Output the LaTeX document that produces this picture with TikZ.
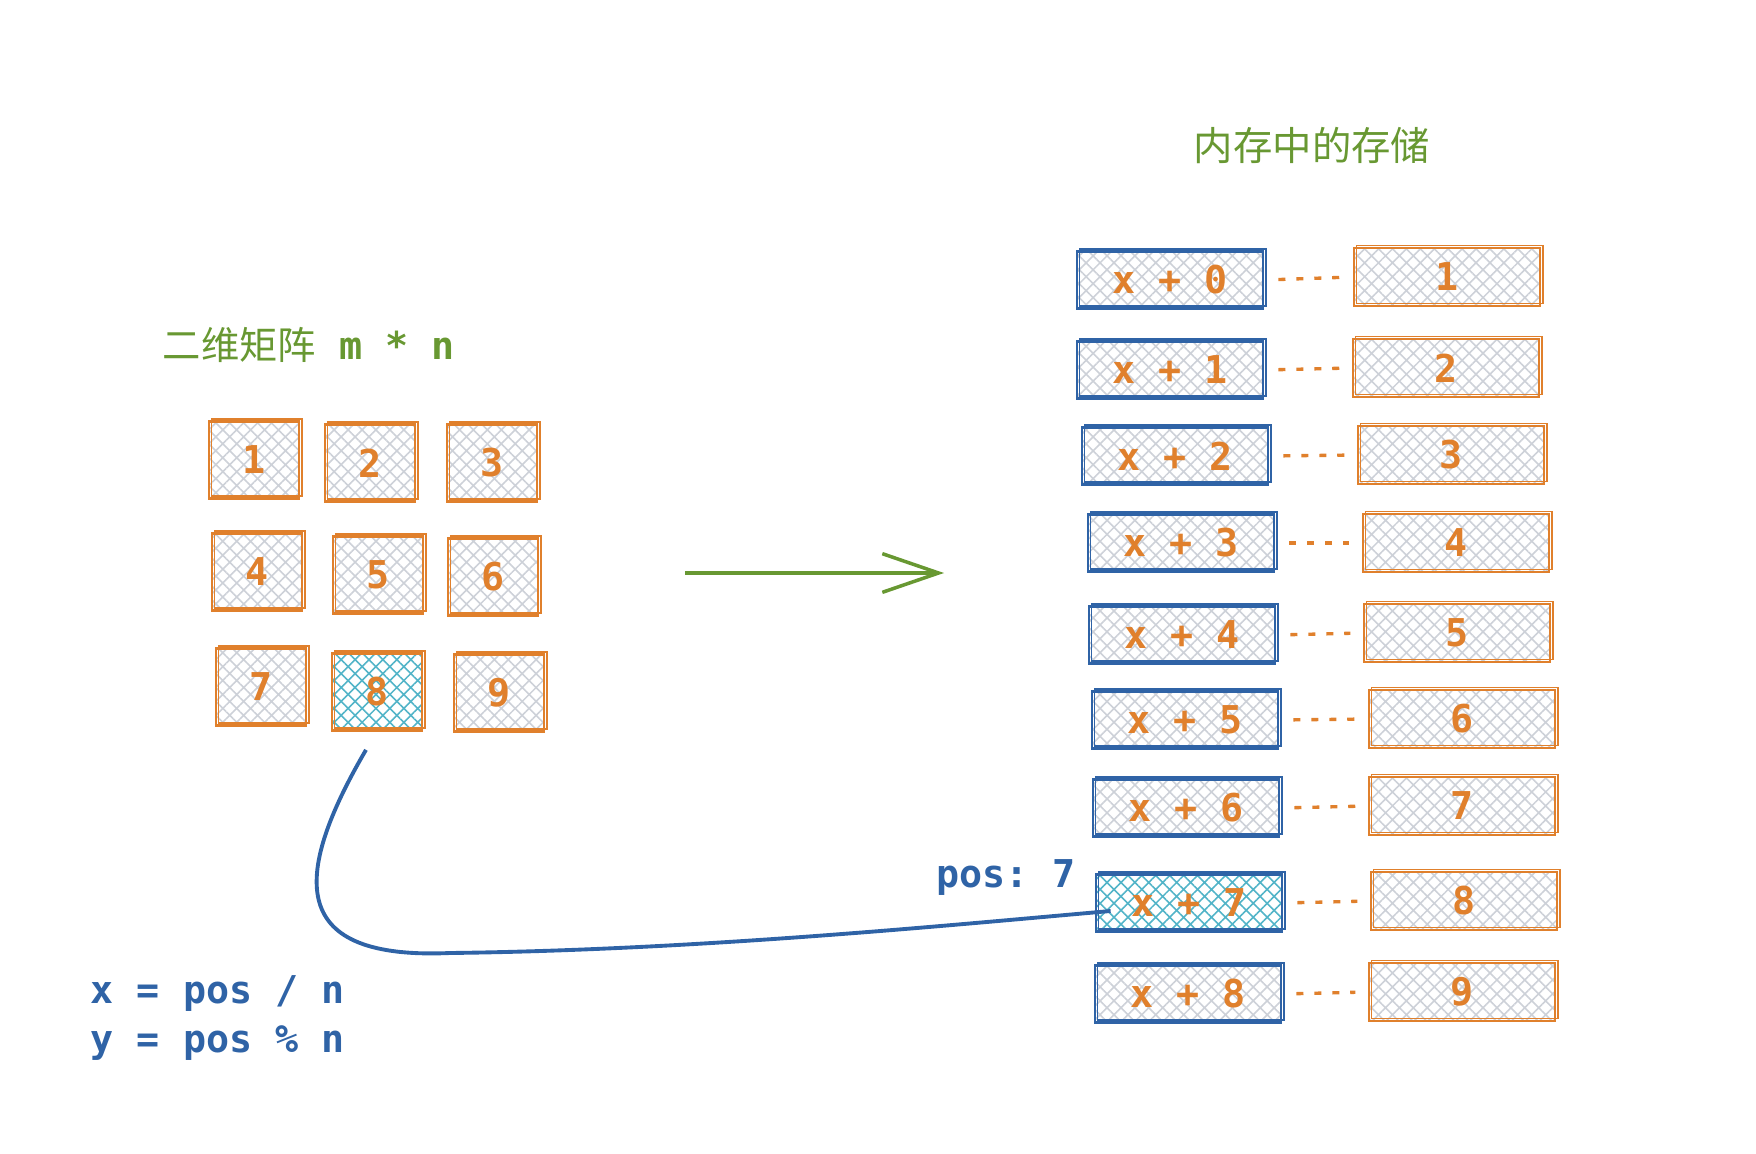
\documentclass[tikz,border=0pt]{standalone}
\usepackage{fontspec}
\usepackage{tikz}
\usetikzlibrary{positioning, calc, patterns.meta, arrows.meta}
\setmonofont{DejaVu Sans Mono}
\newfontfamily\cjkfont{Noto Sans CJK SC}
\definecolor{sketchorange}{RGB}{224,128,44}
\definecolor{sketchblue}{RGB}{47,99,166}
\definecolor{sketchgreen}{RGB}{104,152,50}
\definecolor{hatchgray}{RGB}{205,209,216}
\definecolor{hatchteal}{RGB}{82,180,200}

\begin{document}
\begin{tikzpicture}[x=0.01cm, y=-0.01cm,
	every node/.style={inner sep=0pt, font=\ttfamily\bfseries\fontsize{10.9pt}{13.2pt}\selectfont},
	hatchfill/.style={preaction={pattern={Hatch[angle=45, distance=2.8pt, line width=0.45pt]}, pattern color=#1}},
	sketchy/.style={draw=#1, line width=0.75pt, postaction={draw=#1, line width=0.4pt, transform canvas={shift={(0.8pt,0.7pt)}}}},
	cellbox/.style={sketchy=sketchorange, hatchfill=#1, text=sketchorange, minimum width=0.9cm, minimum height=0.77cm},
	addrbox/.style={sketchy=sketchblue, hatchfill=#1, text=sketchorange, minimum width=1.86cm, minimum height=0.57cm},
	valbox/.style={sketchy=sketchorange, hatchfill=hatchgray, text=sketchorange, minimum width=1.86cm, minimum height=0.58cm},
	dotlink/.style={sketchorange, line width=0.95pt, dash pattern=on 2pt off 3.1pt, shorten <=4pt, shorten >=3.5pt}]
	\useasboundingbox (0,0) rectangle (1756,1154);
	
	\node [anchor=base west, text=sketchgreen] (gridtitle) at (162,359) {{\cjkfont\mdseries 二维矩阵} m * n};
	\node [anchor=base, text=sketchgreen, font=\cjkfont\fontsize{11.2pt}{13pt}\selectfont] (memtitle) at (1312,160) {内存中的存储};
	
	\foreach \n/\px/\py/\hc in {1/254/460/hatchgray, 2/370/463/hatchgray, 3/492/463/hatchgray,
		4/257/572/hatchgray, 5/378/575/hatchgray, 6/493/577/hatchgray,
		7/261/687/hatchgray, 8/377/692/hatchteal, 9/499/693/hatchgray}
	\node [cellbox=\hc] (c\n) at (\px,\py) {\n};
	
	\foreach \i/\px/\py/\vx/\vy/\hc in {0/1170/280/1447/277/hatchgray, 1/1170/370/1446/368/hatchgray,
		2/1175/456/1451/455/hatchgray, 3/1181/543/1456/543/hatchgray,
		4/1182/635/1457/633/hatchgray, 5/1185/720/1462/719/hatchgray,
		6/1186/808/1462/806/hatchgray, 7/1189/903/1464/901/hatchteal,
		8/1188/994/1462/992/hatchgray}
	{
		\pgfmathtruncatemacro\v{\i+1}
		\node [addrbox=\hc] (m\i) at (\px,\py) {x + \i};
		\node [valbox] (v\v) at (\vx,\vy) {\v};
		\draw [dotlink] (m\i.east) -- (v\v.west);
	}
	
	\coordinate (arrowtail) at (685,573);
	\coordinate (arrowtip) at (944,573);
	\draw [sketchgreen, line width=1pt, -{Straight Barb[length=16pt, width=11pt, line width=1pt]}] (arrowtail) -- (arrowtip);
	
	\draw [sketchblue, line width=1.1pt] ($(c8.south)+(-11,18)$) .. controls (290,880) and (290,960) .. (450,953)
		.. controls (700,950) and (950,925) .. ($(m7.west)+(16,8)$);
	
	\node [anchor=base west, text=sketchblue] (poslabel) at (936,887) {pos: 7};
	\node [anchor=base west, text=sketchblue] (xformula) at (90,1003) {x = pos / n};
	\node [anchor=base west, text=sketchblue] (yformula) at (90,1052) {y = pos \% n};
\end{tikzpicture}
\end{document}
